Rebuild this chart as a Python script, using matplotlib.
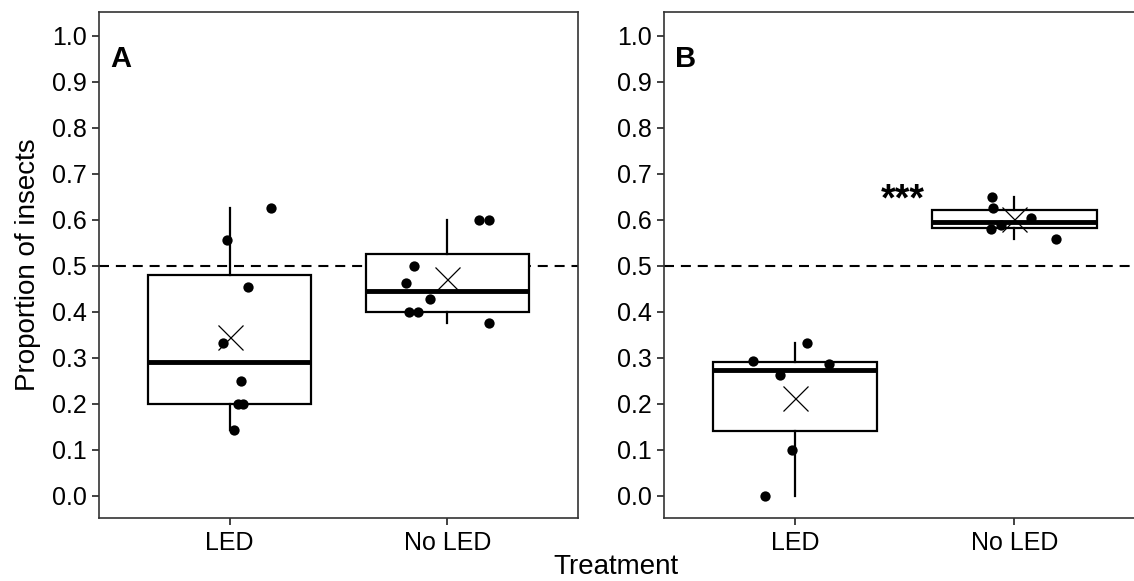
import numpy as np
import matplotlib
matplotlib.use("Agg")
import matplotlib.pyplot as plt

plt.rcParams['font.family'] = ['Liberation Sans', 'DejaVu Sans']

# proportions, one list per box
treatments = ['LED', 'No LED']

a_led = [0.625, 0.556, 0.455, 0.333, 0.25, 0.2, 0.2, 0.143]
a_led_jit = [0.19, -0.013, 0.086, -0.032, 0.054, 0.039, 0.06, 0.02]
a_noled = [0.6, 0.6, 0.5, 0.462, 0.429, 0.4, 0.4, 0.375]
a_noled_jit = [0.146, 0.19, -0.153, -0.191, -0.079, -0.176, -0.133, 0.19]

b_led = [0.294, 0.263, 0.333, 0.286, 0.1, 0.0]
b_led_jit = [-0.194, -0.07, 0.052, 0.153, -0.017, -0.137]
b_noled = [0.65, 0.627, 0.58, 0.589, 0.604, 0.559]
b_noled_jit = [-0.101, -0.098, -0.107, -0.061, 0.074, 0.189]

yticks = [0.0, 0.1, 0.2, 0.3, 0.4, 0.5, 0.6, 0.7, 0.8, 0.9, 1.0]


def draw_panel(ax, groups, jitters, letter, stars=None):
    pos = [1, 2]
    ax.axhline(0.5, color='black', lw=1.5, ls=(0, (4.8, 3.3)), zorder=1)
    ax.boxplot(groups, positions=pos, widths=0.75, whis=1.5,
               patch_artist=True, showcaps=False, showfliers=False,
               boxprops=dict(facecolor='white', edgecolor='black', lw=1.6),
               whiskerprops=dict(color='black', lw=1.6),
               medianprops=dict(color='black', lw=3.5, solid_capstyle='butt'),
               zorder=2)
    for p, vals, jit in zip(pos, groups, jitters):
        ax.scatter(p + np.array(jit), vals, s=55, color='black', zorder=3,
                   linewidths=0)
        ax.plot(p, np.mean(vals), marker='x', ms=18, mew=0.9, color='black',
                zorder=4)
    ax.text(0.5, 0.95, letter, fontsize=21, fontweight='bold',
            ha='center', va='center')
    if stars:
        ax.text(1.49, 0.62, stars, fontsize=27, fontweight='bold',
                ha='center', va='baseline')
    ax.set_xlim(0.4, 2.6)
    ax.set_ylim(-0.048, 1.052)
    ax.set_xticks(pos)
    ax.set_xticklabels(treatments)
    ax.set_yticks(yticks)
    ax.set_yticklabels([f'{t:.1f}' for t in yticks])
    ax.tick_params(labelsize=18, length=5, width=1.3, color='#333333',
                   pad=4, labelcolor='black')
    for s in ax.spines.values():
        s.set_color('#333333')
        s.set_linewidth(1.2)


fig = plt.figure(figsize=(11.34, 5.81), dpi=100)
ax1 = fig.add_axes([0.0873, 0.1084, 0.4224, 0.8709])
ax2 = fig.add_axes([0.5855, 0.1084, 0.4249, 0.8709])

draw_panel(ax1, [a_led, a_noled], [a_led_jit, a_noled_jit], 'A')
draw_panel(ax2, [b_led, b_noled], [b_led_jit, b_noled_jit], 'B', stars='***')

ax1.set_ylabel('Proportion of insects', fontsize=20, labelpad=8)
fig.text(616 / 1134, 1 - 567 / 581, 'Treatment', fontsize=20,
         ha='center', va='center')

fig.savefig('out.png', dpi=100)
